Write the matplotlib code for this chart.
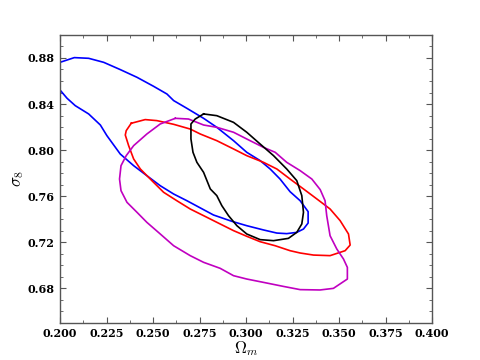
import matplotlib
matplotlib.use("Agg")
import matplotlib.pyplot as plt
from matplotlib.ticker import MultipleLocator, FormatStrFormatter

# contour traces (Omega_m, sigma_8)
blue_om = [0.2000, 0.2077, 0.2154, 0.2235, 0.2324, 0.2414, 0.2503, 0.2575, 0.2611,
           0.2682, 0.2772, 0.2843, 0.2933, 0.3004, 0.3076, 0.3130, 0.3183, 0.3237,
           0.3291, 0.3334, 0.3334, 0.3309, 0.3273, 0.3219, 0.3166, 0.3094, 0.3004,
           0.2924, 0.2825, 0.2772, 0.2682, 0.2611, 0.2539, 0.2467, 0.2396, 0.2324,
           0.2252, 0.2217, 0.2154, 0.2082, 0.2038, 0.2000]
blue_s8 = [0.8762, 0.8803, 0.8797, 0.8762, 0.8699, 0.8632, 0.8554, 0.8487, 0.8430,
           0.8363, 0.8276, 0.8198, 0.8082, 0.7981, 0.7909, 0.7836, 0.7749, 0.7639,
           0.7561, 0.7466, 0.7367, 0.7315, 0.7286, 0.7275, 0.7280, 0.7307, 0.7344,
           0.7382, 0.7437, 0.7483, 0.7561, 0.7619, 0.7691, 0.7778, 0.7865, 0.7966,
           0.8126, 0.8218, 0.8314, 0.8386, 0.8450, 0.8522]

red_om = [0.2383, 0.2458, 0.2521, 0.2611, 0.2700, 0.2754, 0.2843, 0.2933, 0.3004,
          0.3094, 0.3166, 0.3237, 0.3309, 0.3381, 0.3452, 0.3506, 0.3551, 0.3560,
          0.3533, 0.3452, 0.3363, 0.3291, 0.3237, 0.3157, 0.3076, 0.3004, 0.2933,
          0.2861, 0.2772, 0.2700, 0.2628, 0.2557, 0.2494, 0.2432, 0.2396, 0.2369,
          0.2351, 0.2356, 0.2383]
red_s8 = [0.8233, 0.8265, 0.8256, 0.8224, 0.8183, 0.8140, 0.8082, 0.8010, 0.7952,
          0.7894, 0.7836, 0.7749, 0.7663, 0.7576, 0.7489, 0.7388, 0.7272, 0.7176,
          0.7127, 0.7084, 0.7089, 0.7107, 0.7127, 0.7170, 0.7205, 0.7252, 0.7301,
          0.7359, 0.7431, 0.7489, 0.7561, 0.7634, 0.7735, 0.7836, 0.7923, 0.8039,
          0.8131, 0.8169, 0.8233]

mag_om = [0.2620, 0.2691, 0.2772, 0.2843, 0.2933, 0.3022, 0.3094, 0.3157, 0.3219,
          0.3291, 0.3354, 0.3399, 0.3425, 0.3434, 0.3452, 0.3488, 0.3524, 0.3545,
          0.3545, 0.3470, 0.3398, 0.3291, 0.3201, 0.3094, 0.3004, 0.2933, 0.2861,
          0.2772, 0.2700, 0.2611, 0.2539, 0.2467, 0.2414, 0.2360, 0.2328, 0.2320,
          0.2328, 0.2356, 0.2396, 0.2467, 0.2539, 0.2620]
mag_s8 = [0.8276, 0.8270, 0.8218, 0.8198, 0.8155, 0.8082, 0.8024, 0.7981, 0.7894,
          0.7822, 0.7749, 0.7657, 0.7561, 0.7431, 0.7257, 0.7142, 0.7055, 0.6982,
          0.6881, 0.6800, 0.6786, 0.6789, 0.6817, 0.6852, 0.6881, 0.6910, 0.6974,
          0.7026, 0.7084, 0.7170, 0.7272, 0.7373, 0.7460, 0.7547, 0.7648, 0.7749,
          0.7865, 0.7952, 0.8039, 0.8140, 0.8227, 0.8276]

black_om = [0.2772, 0.2843, 0.2933, 0.3004, 0.3076, 0.3148, 0.3219, 0.3273, 0.3300,
            0.3309, 0.3300, 0.3273, 0.3228, 0.3148, 0.3076, 0.3004, 0.2951, 0.2906,
            0.2870, 0.2843, 0.2808, 0.2772, 0.2736, 0.2715, 0.2704, 0.2704, 0.2727,
            0.2772]
black_s8 = [0.8314, 0.8299, 0.8241, 0.8155, 0.8053, 0.7952, 0.7836, 0.7735, 0.7605,
            0.7460, 0.7359, 0.7286, 0.7234, 0.7214, 0.7223, 0.7272, 0.7344, 0.7431,
            0.7518, 0.7605, 0.7663, 0.7807, 0.7894, 0.7981, 0.8097, 0.8227, 0.8270,
            0.8314]

plt.rcParams["mathtext.fontset"] = "cm"
plt.rcParams["font.family"] = "DejaVu Serif"

fig = plt.figure(figsize=(4.8, 3.6), dpi=100)
ax = fig.add_axes([0.125, 0.103, 0.775, 0.8])

ax.plot(blue_om, blue_s8, color="#0000ff", lw=1.2)
ax.plot(red_om, red_s8, color="#ff0000", lw=1.2)
ax.plot(mag_om, mag_s8, color="#c000c0", lw=1.2)
ax.plot(black_om, black_s8, color="black", lw=1.2)

ax.set_xlim(0.2, 0.4)
ax.set_ylim(0.65, 0.90)
ax.xaxis.set_major_locator(MultipleLocator(0.025))
ax.xaxis.set_minor_locator(MultipleLocator(0.0125))
ax.yaxis.set_minor_locator(MultipleLocator(0.01))
ax.set_yticks([0.68, 0.72, 0.76, 0.80, 0.84, 0.88])
ax.xaxis.set_major_formatter(FormatStrFormatter("%.3f"))
ax.yaxis.set_major_formatter(FormatStrFormatter("%.2f"))

edge = "#555555"
for s in ax.spines.values():
    s.set_color(edge)
    s.set_linewidth(1.0)
ax.tick_params(which="both", direction="in", top=True, right=True, color=edge)
ax.tick_params(which="major", length=4, width=0.8, labelsize=8, pad=4)
ax.tick_params(which="minor", length=2, width=0.6)
for lab in ax.get_xticklabels() + ax.get_yticklabels():
    lab.set_fontweight("bold")

ax.set_xlabel(r"$\Omega_m$", fontsize=12, labelpad=0)
ax.set_ylabel(r"$\sigma_8$", fontsize=12, labelpad=1)

fig.savefig("out.png", dpi=100)
